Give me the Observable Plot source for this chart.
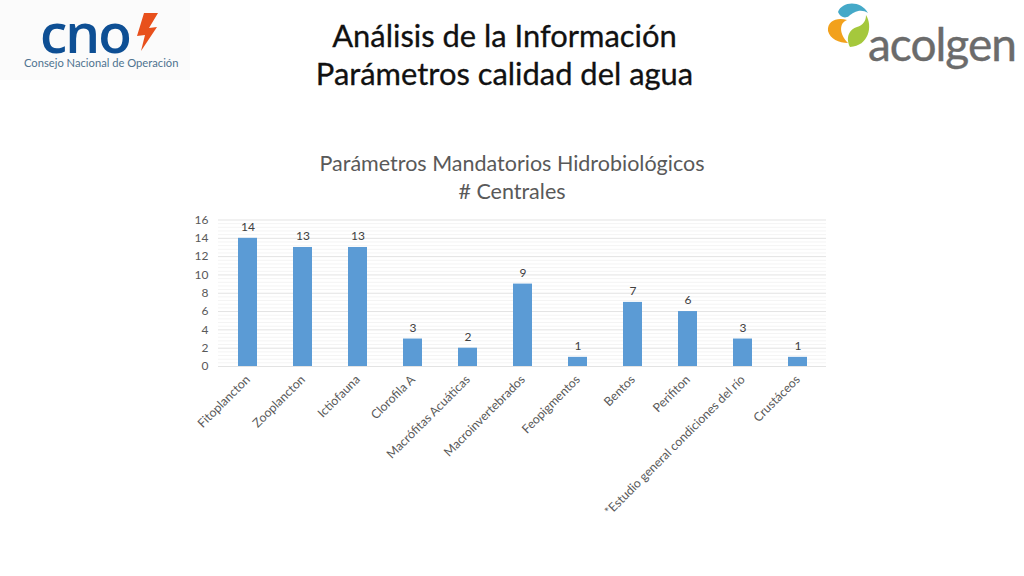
<!DOCTYPE html>
<html><head><meta charset="utf-8">
<script src="https://cdn.jsdelivr.net/npm/d3@7"></script>
<script src="https://cdn.jsdelivr.net/npm/@observablehq/plot@0.6"></script>
<style>
html,body{margin:0;padding:0;background:#fff;width:1024px;height:576px;overflow:hidden;font-family:Lato,sans-serif}
#head{position:relative;width:1024px;height:205px;overflow:hidden}
.t{position:absolute;left:0;width:1009px;text-align:center;color:#111;white-space:nowrap}
#t1{top:17px;font-size:30.9px;line-height:38px;-webkit-text-stroke:.3px #111}
#t2{top:55px;font-size:30.9px;line-height:38px;-webkit-text-stroke:.3px #111}
#s1{position:absolute;left:0;width:1024px;text-align:center;top:149px;font-size:21.5px;line-height:28px;color:#595959}
#s2{position:absolute;left:0;width:1024px;text-align:center;top:177px;font-size:21.5px;line-height:28px;color:#595959}
#cnoBox{position:absolute;left:0;top:0;width:190px;height:80px;background:#fbfbfb}
#cno{position:absolute;left:40px;top:14px;font:600 55px/36px "Open Sans",sans-serif;color:#0e4f94;letter-spacing:-2px;white-space:nowrap}
#cnoSub{position:absolute;left:24px;top:55px;font-size:11.2px;line-height:16px;color:#4f7390;white-space:nowrap}
#ac{position:absolute;left:868px;top:14px;font:400 46px/60px Lato,sans-serif;color:#6b6b6b;letter-spacing:-1px;-webkit-text-stroke:.4px #6b6b6b;white-space:nowrap}
svg.logo{position:absolute;overflow:visible}
</style></head><body>
<div id="head">
 <div id="cnoBox"></div>
 <div id="cno">cno</div>
 <svg class="logo" style="left:136px;top:12px" width="24" height="40"><path d="M22 1 L8 1 L1 24 L9 23 L5 39 L21 15 L13 16 Z" fill="#e8501c"/></svg>
 <div id="cnoSub">Consejo Nacional de Operación</div>
 <svg class="logo" style="left:826px;top:2px" width="46" height="46">
  <path d="M12 10 C16 -1 35 -2 42 11 C35 6 27 10 23 14 C19 17 14 15 12 10Z" fill="#45a9c8"/>
  <path d="M2 29 C1 19 11 15 21 18 C13 21 13 32 22 41 C13 41 4 37 2 29Z" fill="#f2a11c"/>
  <path d="M40 13 C47 24 43 44 24 45 C19 35 24 27 31 25 C37 23 40 19 40 13Z" fill="#a5c83c"/>
 </svg>
 <div id="ac">acolgen</div>
 <div class="t" id="t1">Análisis de la Información</div>
 <div class="t" id="t2">Parámetros calidad del agua</div>
 <div id="s1">Parámetros Mandatorios Hidrobiológicos</div>
 <div id="s2"># Centrales</div>
</div>
<div id="chart"></div>
<script>
const categories = ["Fitoplancton","Zooplancton","Ictiofauna","Clorofila A","Macrófitas Acuáticas","Macroinvertebrados","Feopigmentos","Bentos","Perifiton","*Estudio general condiciones del río","Crustáceos"];
const values = [14,13,13,3,2,9,1,7,6,3,1];
const majorTicks = [0,2,4,6,8,10,12,14,16];
const minorTicks = [0.4,0.8,1.2,1.6,2.4,2.8,3.2,3.6,4.4,4.8,5.2,5.6,6.4,6.8,7.2,7.6,8.4,8.8,9.2,9.6,10.4,10.8,11.2,11.6,12.4,12.8,13.2,13.6,14.4,14.8,15.2,15.6];
const rows = categories.map((c,i)=>({c,v:values[i]}));
const plot = Plot.plot({
  width:1024, height:371,
  marginLeft:218, marginRight:198, marginTop:14.5, marginBottom:210,
  style:{background:"transparent",fontFamily:"Lato, sans-serif"},
  x:{domain:categories,paddingInner:0.66,paddingOuter:0.33,align:0.5,label:null},
  y:{domain:[0,16],label:null},
  marks:[
    Plot.ruleY(minorTicks,{stroke:"#f4f4f4",strokeWidth:1}),
    Plot.ruleY(majorTicks,{stroke:"#e3e3e3",strokeWidth:1}),
    Plot.barY(rows,{x:"c",y:"v",fill:"#5b9bd5"}),
    Plot.text(rows,{x:"c",y:"v",text:d=>String(d.v),dy:-11,fill:"#404040",fontSize:12}),
    Plot.axisY({ticks:majorTicks,tickSize:0,tickPadding:10,fontSize:12,color:"#595959",label:null}),
    Plot.axisX({tickSize:0,tickPadding:11,tickRotate:-45,fontSize:12.3,color:"#595959",label:null,lineWidth:100})
  ]
});
document.getElementById("chart").appendChild(plot);
</script>
</body></html>
